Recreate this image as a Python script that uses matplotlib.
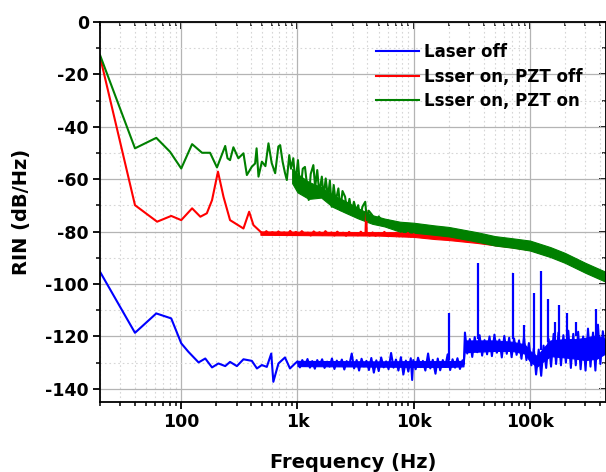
import matplotlib
matplotlib.use("Agg")
import matplotlib.pyplot as plt
from matplotlib.ticker import FixedLocator, FixedFormatter, MultipleLocator, NullFormatter

# ---- data ----
# Laser off (blue): low-frequency part
blue_f = [20, 40, 61, 82, 100, 115, 141, 161, 184, 209, 239, 263, 301, 343, 405, 448,
          494, 545, 595, 620, 686, 781, 862, 954]
blue_v = [-95.3, -118.6, -111.2, -113.1, -122.6, -125.8, -129.9, -128.4, -131.8, -130.3,
          -131.3, -129.7, -131.3, -128.7, -129.3, -132.2, -130.9, -131.6, -126.5, -137.3,
          -130.3, -128.0, -132.2, -130.3]
# Laser off: noisy part above 1 kHz
blue_nf = [1000, 1050, 1100, 1160, 1220, 1280, 1340, 1410, 1480, 1550,
           1630, 1710, 1800, 1890, 1980, 2080, 2180, 2290, 2410, 2530,
           2650, 2790, 2930, 3070, 3230, 3390, 3560, 3730, 3920, 4120,
           4320, 4540, 4770, 5000, 5250, 5520, 5790, 6080, 6390, 6710,
           7040, 7390, 7760, 8150, 8560, 8990, 9440, 9700, 9910, 10400,
           10900, 11500, 12000, 12600, 13300, 13900, 14600, 15400, 16100, 16900,
           17800, 18700, 19600, 20600, 21600, 22700, 23800, 25000, 26300, 27000,
           27600, 28900, 30400, 31900, 33500, 35200, 36900, 38800, 40700, 42800,
           44900, 47100, 49500, 52000, 54600, 57300, 60200, 63200, 66300, 69600,
           73100, 76800, 80600, 84600, 88900, 93300, 98000, 103000, 108000, 113000,
           119000, 125000, 131000, 138000, 145000, 152000, 160000, 168000, 176000, 185000,
           194000, 204000, 214000, 225000, 236000, 248000, 260000, 273000, 287000, 301000,
           316000, 332000, 349000, 366000, 385000, 404000, 424000, 447000]
blue_nv = [-129.5, -131.8, -129.0, -131.2, -128.6, -131.9, -129.4, -132.3, -129.0, -131.0,
           -128.7, -132.0, -129.6, -131.5, -128.4, -132.4, -129.2, -131.3, -128.8, -132.6,
           -129.4, -131.0, -126.5, -132.2, -129.0, -133.0, -128.5, -131.4, -129.3, -132.8,
           -128.2, -133.8, -129.1, -133.2, -128.0, -131.8, -129.5, -132.5, -126.3, -131.9,
           -128.8, -133.0, -127.9, -134.5, -129.2, -133.4, -128.3, -136.6, -129.0, -132.5,
           -128.1, -131.7, -129.3, -133.0, -126.5, -132.2, -128.9, -134.2, -128.4, -132.9,
           -129.0, -131.6, -126.8, -132.8, -128.7, -131.9, -128.3, -132.4, -129.1, -130.5,
           -118.5, -126.5, -121.0, -127.8, -120.2, -126.0, -119.5, -127.3, -121.4, -126.8,
           -120.0, -127.5, -119.3, -126.2, -121.2, -128.0, -119.8, -126.6, -120.5, -127.9,
           -120.8, -127.0, -121.5, -128.5, -120.3, -129.0, -122.5, -131.0, -124.5, -134.5,
           -125.0, -135.0, -123.5, -132.0, -121.0, -131.5, -119.0, -130.5, -118.5, -131.0,
           -119.5, -130.0, -117.8, -132.0, -119.0, -131.0, -118.2, -132.5, -120.0, -133.0,
           -117.0, -131.5, -118.5, -133.0, -115.5, -130.5, -118.0, -126.0]
# dense core of the blue noise
blue_band_f = [1000, 5000, 10000, 20000, 26800, 27400, 35000, 50000, 70000, 90000,
               100000, 115000, 130000, 150000, 200000, 250000, 300000, 375000, 447000]
blue_lo = [-131.3, -131.5, -131.6, -131.6, -131.4, -126.0, -125.8, -125.5, -125.5, -126.5,
           -129.5, -131.5, -129.5, -127.5, -128.0, -128.5, -129.0, -128.5, -126.5]
blue_hi = [-129.3, -129.5, -129.4, -129.4, -129.3, -121.5, -121.5, -121.5, -122.0, -123.0,
           -125.5, -127.5, -124.5, -121.5, -121.0, -121.0, -120.5, -119.5, -121.0]
spike_f = [20000, 35500, 71000, 89000, 108000, 124000, 143000, 164000, 178000, 210000,
           250000, 370000]
spike_lo = [-129, -121, -121, -122, -125, -125, -122, -122, -122, -121, -120, -120]
spike_hi = [-111.2, -92.0, -95.9, -115.7, -103.3, -94.9, -105.8, -114.4, -108.0, -111.2,
            -114.4, -109.7]

# Laser on, PZT off (red)
red_f = [20, 40, 62, 82, 100, 124, 146, 166, 184, 207, 231, 263, 343, 384, 418,
         480, 510, 540, 570, 610, 645, 685, 725, 770, 815,
         865, 915, 970, 1030, 1090, 1160, 1230, 1300, 1380, 1460,
         1550, 1640, 1740, 1850, 1960, 2080, 2200, 2330, 2470, 2620,
         2780, 2950, 3120, 3310, 3510, 3720, 3850, 3900, 3950, 4180,
         4430, 4700, 4980, 5280, 5600, 5930, 6290, 6670, 7070, 7490,
         7940, 8420, 8920, 9460, 10000]
red_v = [-13.2, -69.9, -76.2, -74.0, -75.6, -71.1, -74.3, -73.0, -68.0, -57.1, -66.7,
         -75.6, -78.8, -72.4, -77.5,
         -80.0, -81.0, -79.8, -80.9, -80.2, -81.3, -79.9, -80.8, -80.3, -81.4,
         -79.7, -80.9, -80.1, -81.2, -79.8, -81.0, -80.4, -81.5, -79.9, -80.9,
         -80.2, -81.3, -79.8, -81.1, -80.3, -81.5, -80.0, -81.0, -80.4, -81.6,
         -80.1, -81.2, -80.5, -81.4, -80.0, -81.3, -80.6, -71.8, -80.9, -81.5,
         -80.3, -81.6, -80.5, -81.2, -80.1, -81.7, -80.6, -81.3, -80.4, -81.8,
         -80.7, -81.5, -80.5, -81.9, -81.0]
red_band_f = [480, 1000, 2000, 5000, 10000, 15000, 20000, 35000, 50000, 70000, 100000,
              150000, 200000, 300000, 447000]
red_lo = [-81.2, -81.3, -81.4, -81.5, -82.0, -82.8, -83.2, -84.3, -85.2, -86.0, -87.0,
          -89.3, -91.5, -95.2, -98.7]
red_hi = [-79.9, -80.0, -80.1, -80.2, -80.2, -80.9, -81.2, -82.2, -83.0, -83.8, -84.7,
          -86.8, -88.9, -92.6, -96.0]

# Laser on, PZT on (green)
green_f = [20, 40, 61, 80, 100, 124, 151, 177, 203, 239, 250, 263, 281, 310, 343, 367,
           405,
           432, 445, 462, 494, 530, 563, 600, 643, 685, 710,
           745, 780, 810, 850, 880, 921, 960, 1010, 1060, 1110,
           1160, 1250, 1300, 1370, 1420, 1480, 1540, 1620, 1680, 1750,
           1830, 1900, 1970, 2050, 2130, 2250, 2340, 2440, 2570, 2680,
           2800, 2930, 3060, 3200, 3330, 3470, 3620, 3830, 3950, 4100,
           4400, 4700, 5000, 5600]
green_v = [-12.6, -48.2, -44.2, -49.5, -55.9, -46.6, -49.9, -49.9, -55.5, -47.3, -52.0,
           -52.7, -47.8, -52.0, -50.1, -58.4, -55.2,
           -54.0, -48.2, -59.0, -53.3, -55.0, -46.3, -53.8, -57.7, -47.5, -47.0,
           -53.3, -57.5, -60.3, -50.8, -56.0, -52.0, -61.5, -52.7, -65.3, -56.0,
           -55.3, -67.9, -58.0, -54.6, -63.0, -56.5, -65.5, -59.0, -66.7, -59.7,
           -67.0, -60.5, -70.5, -62.2, -68.5, -63.5, -71.8, -64.5, -66.7, -72.5,
           -67.5, -73.0, -68.6, -72.0, -69.9, -74.9, -70.5, -68.6, -75.6, -72.0,
           -73.7, -76.7, -74.2, -77.0]
green_band_f = [900, 1000, 1250, 1600, 2000, 2500, 3300, 4400, 5600, 7600, 10000, 15000,
                20000, 35000, 50000, 70000, 100000, 150000, 200000, 300000, 447000]
green_lo = [-61.5, -65.0, -67.5, -67.0, -70.5, -72.5, -74.9, -77.0, -78.0, -80.0, -80.4,
            -81.2, -81.8, -83.8, -85.3, -86.1, -87.2, -89.7, -91.9, -95.7, -99.1]
green_hi = [-56.0, -58.0, -61.0, -63.0, -66.0, -68.0, -71.0, -73.7, -75.0, -76.2, -76.6,
            -77.6, -78.2, -80.2, -81.7, -82.5, -83.4, -85.9, -88.1, -91.9, -95.3]

x_ticks = [100, 1000, 10000, 100000]
x_labels = ["100", "1k", "10k", "100k"]

plt.rcParams['font.family'] = ['DejaVu Sans']
plt.rcParams['font.weight'] = 'bold'
plt.rcParams['axes.unicode_minus'] = False

fig = plt.figure(figsize=(6.06, 4.72), dpi=100)
ax = fig.add_axes([100 / 606, 1 - 402 / 472, 505.5 / 606, 380 / 472])

BLUE, RED, GREEN = '#0000ff', '#ff0000', '#008000'
lw = 1.5

# blue
ax.fill_between(blue_band_f, blue_lo, blue_hi, color=BLUE, lw=0.8)
ax.plot(blue_f + blue_nf, blue_v + blue_nv, color=BLUE, lw=lw, label='Laser off')
ax.vlines(spike_f, spike_lo, spike_hi, color=BLUE, lw=1.6)
# red
ax.fill_between(red_band_f, red_lo, red_hi, color=RED, lw=0.8)
ax.plot(red_f, red_v, color=RED, lw=lw, label='Lsser on, PZT off')
# green
ax.fill_between(green_band_f, green_lo, green_hi, color=GREEN, lw=0.8)
ax.plot(green_f, green_v, color=GREEN, lw=lw, label='Lsser on, PZT on')

ax.set_xscale('log')
ax.set_xlim(20, 4.47e5)
ax.set_ylim(-145, 0)

ax.xaxis.set_major_locator(FixedLocator(x_ticks))
ax.xaxis.set_major_formatter(FixedFormatter(x_labels))
ax.xaxis.set_minor_formatter(NullFormatter())
ax.yaxis.set_major_locator(MultipleLocator(20))
ax.yaxis.set_minor_locator(MultipleLocator(10))

ax.grid(True, which='major', color='#b4b4b4', lw=0.9)
ax.grid(True, which='minor', color='#d6d6d6', lw=0.8, ls=(0, (1.5, 2.5)))
ax.set_axisbelow(True)

for s in ax.spines.values():
    s.set_linewidth(1.3)
ax.tick_params(which='major', direction='out', length=5, width=1.3, labelsize=12.5, pad=3)
ax.tick_params(which='minor', direction='out', length=3, width=1.1)

# mirrored axes with ticks pointing in
top = ax.secondary_xaxis('top')
top.xaxis.set_major_locator(FixedLocator(x_ticks))
top.tick_params(which='major', direction='in', length=5, width=1.3, labeltop=False)
top.tick_params(which='minor', direction='in', length=3, width=1.1)
top.xaxis.set_minor_formatter(NullFormatter())
right = ax.secondary_yaxis('right')
right.yaxis.set_major_locator(MultipleLocator(20))
right.yaxis.set_minor_locator(MultipleLocator(10))
right.tick_params(which='major', direction='in', length=5, width=1.3, labelright=False)
right.tick_params(which='minor', direction='in', length=3, width=1.1)

ax.set_xlabel('Frequency (Hz)', fontsize=14, fontweight='bold', labelpad=16)
ax.set_ylabel('RIN (dB/Hz)', fontsize=14, fontweight='bold', labelpad=10)

ax.legend(loc='upper left', bbox_to_anchor=(376 / 606, 1 - 43 / 472),
          bbox_transform=fig.transFigure, frameon=False, fontsize=12,
          handlelength=2.6, handletextpad=0.3, labelspacing=0.4,
          borderpad=0, borderaxespad=0)

fig.savefig('out.png', dpi=100)
